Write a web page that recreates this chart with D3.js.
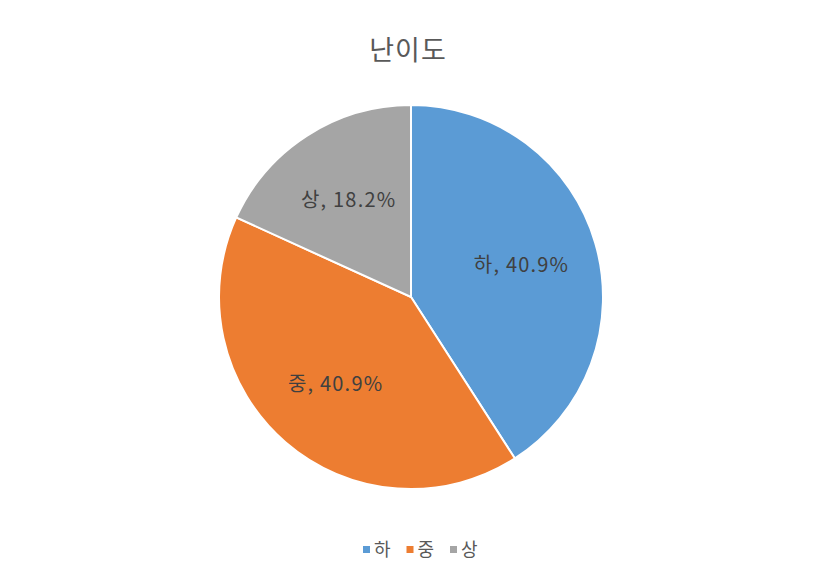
<!DOCTYPE html>
<html><head><meta charset="utf-8">
<script src="https://cdn.jsdelivr.net/npm/d3@7"></script>
<style>
html,body{margin:0;padding:0;background:#fff;}
svg text{font-family:"Noto Sans CJK KR","Noto Sans",sans-serif;}
</style>
</head><body>
<svg id="c" width="820" height="570"></svg>
<script>
const categories = ["하", "중", "상"];
const values = [40.9, 40.9, 18.2];
const colors = ["#5B9BD5", "#ED7D31", "#A5A5A5"];
const title = "난이도";

const svg = d3.select("#c");
const W = 820, H = 570;
svg.append("rect").attr("width", W).attr("height", H).attr("fill", "#fff");

svg.append("text").attr("x", 408).attr("y", 60).attr("text-anchor", "middle")
  .attr("font-size", 27).attr("letter-spacing", 1).attr("fill", "#595959").text(title);

const cx = 411, cy = 297, R = 192;
const data = categories.map((c, i) => ({cat: c, v: values[i], color: colors[i]}));
const pie = d3.pie().value(d => d.v).sort(null);
const arc = d3.arc().innerRadius(0).outerRadius(R);
const labelArc = d3.arc().innerRadius(R * 0.6).outerRadius(R * 0.6);
const g = svg.append("g").attr("transform", `translate(${cx},${cy})`);
const arcs = pie(data);
g.selectAll("path").data(arcs).join("path")
  .attr("d", arc).attr("fill", d => d.data.color)
  .attr("stroke", "#fff").attr("stroke-width", 2);
g.selectAll("text").data(arcs).join("text")
  .attr("transform", d => `translate(${labelArc.centroid(d)})`)
  .attr("text-anchor", "middle").attr("dy", "0.35em")
  .attr("font-size", 20).attr("letter-spacing", 1.2).attr("fill", "#404040")
  .text(d => `${d.data.cat}, ${d3.format(".1f")(d.data.v)}%`);

// legend
const lg = svg.append("g").attr("transform", "translate(363,550)");
const xs = d3.scalePoint().domain(categories).range([0, 87]);
const items = lg.selectAll("g").data(data).join("g")
  .attr("transform", d => `translate(${xs(d.cat)},0)`);
items.append("rect").attr("x", 0).attr("y", -4).attr("width", 7).attr("height", 7).attr("fill", d => d.color);
items.append("text").attr("x", 11).attr("y", 0).attr("dy", "0.35em")
  .attr("font-size", 18).attr("fill", "#595959").text(d => d.cat);
</script>
</body></html>
